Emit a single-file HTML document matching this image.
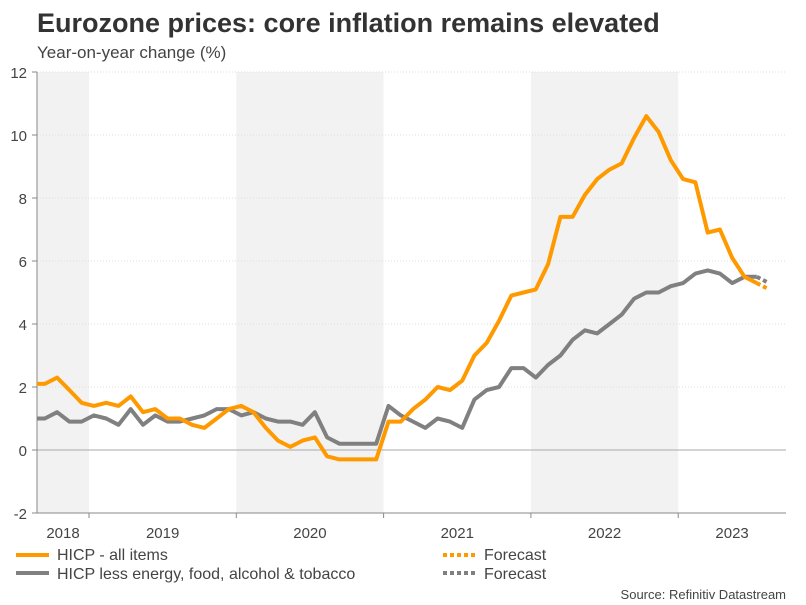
<!DOCTYPE html>
<html><head><meta charset="utf-8"><style>
body{margin:0;background:#fff;}
svg{display:block;font-family:"Liberation Sans",sans-serif;}
</style></head><body>
<svg id="chart" width="806" height="605" viewBox="0 0 806 605">
<text x="37" y="32" font-size="27" font-weight="bold" fill="#333">Eurozone prices: core inflation remains elevated</text>
<text x="37" y="58" font-size="17" fill="#444">Year-on-year change (%)</text>
<g id="bands"></g><g id="grid"></g><g id="axes"></g><g id="series"></g>
<g>
<line x1="16" y1="555" x2="49" y2="555" stroke="#f90" stroke-width="4"/>
<text x="57" y="560" font-size="16" fill="#444">HICP - all items</text>
<line x1="16" y1="573" x2="49" y2="573" stroke="#808080" stroke-width="4"/>
<text x="57" y="579" font-size="16" fill="#444">HICP less energy, food, alcohol &amp; tobacco</text>
<line x1="443" y1="555" x2="478" y2="555" stroke="#f90" stroke-width="4" stroke-dasharray="4,3"/>
<text x="484" y="560" font-size="16" fill="#444">Forecast</text>
<line x1="443" y1="573" x2="478" y2="573" stroke="#808080" stroke-width="4" stroke-dasharray="4,3"/>
<text x="484" y="579" font-size="16" fill="#444">Forecast</text>
</g>
<text x="786" y="599" font-size="13" fill="#444" text-anchor="end">Source: Refinitiv Datastream</text>
</svg>
<script>
// months start Aug 2018
const headline = [2.1,2.1,2.3,1.9,1.5,
1.4,1.5,1.4,1.7,1.2,1.3,1.0,1.0,0.8,0.7,1.0,1.3,
1.4,1.2,0.7,0.3,0.1,0.3,0.4,-0.2,-0.3,-0.3,-0.3,-0.3,
0.9,0.9,1.3,1.6,2.0,1.9,2.2,3.0,3.4,4.1,4.9,5.0,
5.1,5.9,7.4,7.4,8.1,8.6,8.9,9.1,9.9,10.6,10.1,9.2,
8.6,8.5,6.9,7.0,6.1,5.5,5.3];
const headlineForecast = [5.1];
const core = [1.0,1.0,1.2,0.9,0.9,
1.1,1.0,0.8,1.3,0.8,1.1,0.9,0.9,1.0,1.1,1.3,1.3,
1.1,1.2,1.0,0.9,0.9,0.8,1.2,0.4,0.2,0.2,0.2,0.2,
1.4,1.1,0.9,0.7,1.0,0.9,0.7,1.6,1.9,2.0,2.6,2.6,
2.3,2.7,3.0,3.5,3.8,3.7,4.0,4.3,4.8,5.0,5.0,5.2,
5.3,5.6,5.7,5.6,5.3,5.5,5.5];
const coreForecast = [5.3];
const years = ["2018","2019","2020","2021","2022","2023"];
const yTicks = [-2,0,2,4,6,8,10,12];

const NS="http://www.w3.org/2000/svg";
const L=37,R=786,T=72,B=513;
const jan2019=89, pxMonth=147.3/12;
function xm(i){return jan2019+(i-5+0.4)*pxMonth;}
function yv(v){return B-(v+2)*(B-T)/14;}
function el(tag,attrs,parent){const e=document.createElementNS(NS,tag);for(const k in attrs)e.setAttribute(k,attrs[k]);parent.appendChild(e);return e;}
const bands=document.getElementById('bands'),grid=document.getElementById('grid'),axes=document.getElementById('axes'),series=document.getElementById('series');
years.forEach((y,k)=>{
  const x0=Math.max(L,jan2019+(k-1)*147.3), x1=Math.min(R,jan2019+k*147.3);
  if(k%2===0){const b=el('rect',{x:x0,y:T,width:x1-x0,height:B-T,fill:'#f2f2f2'},bands);
    
    }
  const t=el('text',{x:(x0+x1)/2,y:538,'font-size':15,fill:'#444','text-anchor':'middle'},axes);
  t.textContent=y;
  
  
  if(k>0){const tk=el('line',{x1:x0,y1:B,x2:x0,y2:B+5,stroke:'#888'},axes);
    
    }
});
yTicks.forEach(v=>{
  const y=yv(v);
  if(v===0){el('line',{x1:L,y1:y,x2:R,y2:y,stroke:'#aaa','stroke-width':1},grid);}
  else if(v!==-2){el('line',{x1:L,y1:y,x2:R,y2:y,stroke:'#ddd','stroke-dasharray':'1,2'},grid);}
  el('line',{x1:L-5,y1:y,x2:L,y2:y,stroke:'#888'},axes);
  const t=el('text',{x:27,y:y+6,'font-size':15,fill:'#444','text-anchor':'end'},axes);
  t.textContent=v;
  
  
});
el('line',{x1:L,y1:T,x2:L,y2:B,stroke:'#888'},axes);
el('line',{x1:L,y1:B,x2:R,y2:B,stroke:'#888'},axes);
const clip=el('clipPath',{id:'pc'},el('defs',{},series));
el('rect',{x:L,y:0,width:R-L,height:605},clip);
function line(vals,start,color,dash,name){
  const pts=vals.map((v,i)=>xm(start+i).toFixed(1)+','+yv(v).toFixed(1)).join(' ');
  const p=el('polyline',{points:pts,fill:'none',stroke:color,'stroke-width':4,'stroke-linejoin':'round','clip-path':'url(#pc)'},series);
  if(dash)p.setAttribute('stroke-dasharray',dash);
  
  
}
const n=headline.length;
line(core,0,'#808080',null,'core-line');
line([core[core.length-1]].concat(coreForecast),core.length-1,'#808080','4,3','core-forecast-line');
line(headline,0,'#f90',null,'headline-line');
line([headline[n-1]].concat(headlineForecast),n-1,'#f90','4,3','headline-forecast-line');
</script>
</body></html>
